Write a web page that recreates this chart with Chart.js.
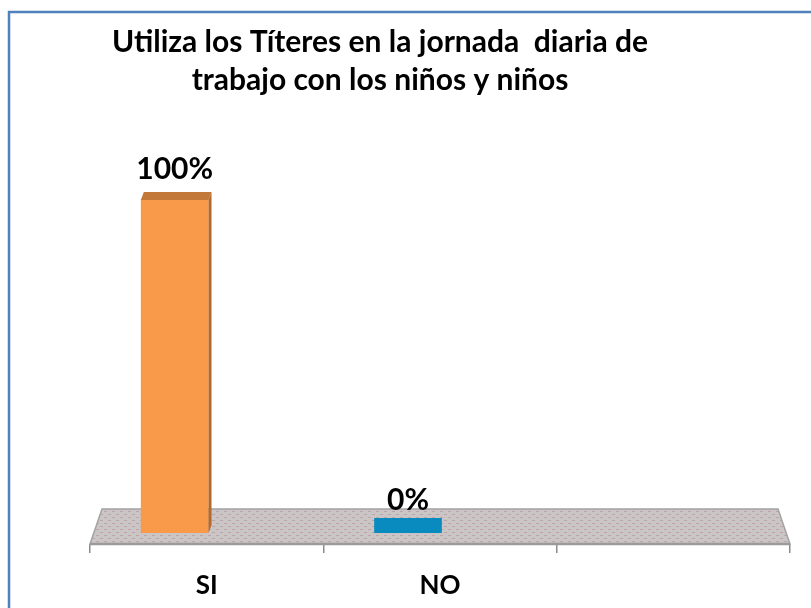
<!DOCTYPE html>
<html>
<head>
<meta charset="utf-8">
<script src="https://cdn.jsdelivr.net/npm/chart.js@4.4.0/dist/chart.umd.min.js"></script>
<style>
  html, body { margin: 0; padding: 0; background: #fff; }
  #wrap { width: 811px; height: 608px; }
</style>
</head>
<body>
<div id="wrap"><canvas id="chart"></canvas></div>
<script>
const titleLines = ['Utiliza los Títeres en la jornada  diaria de', 'trabajo con los niños y niños'];
const categories = ['SI', 'NO', ''];
const percentages = [100, 0, null];
const barColors = ['#f9994a', '#0a8bbf', '#f9994a'];
const topColors = ['#c27839', '#066a93', '#c27839'];
const sideColors = ['#b4682b', '#055a7c', '#b4682b'];

// floor pattern, grey with small pink dashes
function floorPattern(ctx) {
	const c = document.createElement('canvas');
	c.width = 8; c.height = 6;
	const p = c.getContext('2d');
	p.fillStyle = '#cbc6c6';
	p.fillRect(0, 0, 8, 6);
	p.fillStyle = '#bfa3aa';
	p.fillRect(0, 1, 3, 1);
	p.fillRect(4, 4, 3, 1);
	return ctx.createPattern(c, 'repeat');
}

const SHIFT = -32;
const DX = 3, DY = -8;

const decor = {
	id: 'decor',
	// zero bars get minBarLength centred on the base; sit them on the floor instead
	afterDatasetsUpdate(chart) {
		const zero = chart.scales.y.getPixelForValue(0);
		chart.getDatasetMeta(0).data.forEach((bar, i) => {
			if (percentages[i] === 0) {
				const h = Math.abs(bar.base - bar.y);
				bar.base = zero;
				bar.y = zero - h;
			}
		});
	},
	beforeDraw(chart) {
		const ctx = chart.ctx;
		ctx.save();
		ctx.fillStyle = '#fff';
		ctx.fillRect(0, 0, chart.width, chart.height);
		ctx.strokeStyle = '#4f81bd';
		ctx.lineWidth = 2.5;
		ctx.strokeRect(9, 12, chart.width + 10, chart.height + 10);
		ctx.fillStyle = '#000';
		ctx.font = 'bold 30px Lato';
		ctx.textAlign = 'center';
		ctx.textBaseline = 'middle';
		titleLines.forEach((t, i) => ctx.fillText(t, 380, 42 + i * 38));
		ctx.restore();
	},
	beforeDatasetsDraw(chart) {
		const ctx = chart.ctx;
		const a = chart.chartArea;
		const bottom = a.bottom, top = a.bottom - 35;
		ctx.save();
		ctx.beginPath();
		ctx.moveTo(a.left, bottom);
		ctx.lineTo(a.left + 12, top);
		ctx.lineTo(a.right - 12, top);
		ctx.lineTo(a.right, bottom);
		ctx.closePath();
		ctx.fillStyle = floorPattern(ctx);
		ctx.fill();
		ctx.strokeStyle = '#a3a3a3';
		ctx.lineWidth = 1.5;
		ctx.stroke();
		ctx.beginPath();
		ctx.moveTo(a.left, bottom);
		ctx.lineTo(a.right, bottom);
		ctx.lineWidth = 2.5;
		ctx.strokeStyle = '#9a9a9a';
		ctx.stroke();
		ctx.restore();
		ctx.save();
		ctx.translate(SHIFT, 0);
	},
	afterDatasetsDraw(chart) {
		const ctx = chart.ctx;
		ctx.restore();
		const meta = chart.getDatasetMeta(0);
		ctx.save();
		meta.data.forEach((bar, i) => {
			const v = percentages[i];
			if (v === null) return;
			const x0 = bar.x - bar.width / 2 + SHIFT;
			const x1 = bar.x + bar.width / 2 + SHIFT;
			let visibleTop = bar.y;
			let gap = 8;
			if (v > 0) {
				ctx.fillStyle = topColors[i];
				ctx.beginPath();
				ctx.moveTo(x0, bar.y);
				ctx.lineTo(x0 + DX, bar.y + DY);
				ctx.lineTo(x1 + DX, bar.y + DY);
				ctx.lineTo(x1, bar.y);
				ctx.closePath();
				ctx.fill();
				ctx.fillStyle = sideColors[i];
				ctx.beginPath();
				ctx.moveTo(x1, bar.y);
				ctx.lineTo(x1 + DX, bar.y + DY);
				ctx.lineTo(x1 + DX, bar.base + DY);
				ctx.lineTo(x1, bar.base);
				ctx.closePath();
				ctx.fill();
				visibleTop = bar.y + DY;
				gap = 13;
			}
			ctx.fillStyle = '#000';
			ctx.font = 'bold 30px Lato';
			ctx.textAlign = 'center';
			ctx.textBaseline = 'alphabetic';
			ctx.fillText(v + '%', (x0 + x1) / 2, visibleTop - gap);
		});
		ctx.restore();
	}
};

new Chart(document.getElementById('chart'), {
	type: 'bar',
	data: {
		labels: categories,
		datasets: [{
			data: percentages,
			backgroundColor: barColors,
			borderWidth: 0,
			categoryPercentage: 1,
			barPercentage: 0.29,
			minBarLength: 15,
		}],
	},
	options: {
		responsive: true,
		maintainAspectRatio: false,
		animation: false,
		layout: { padding: { top: 200, left: 90, right: 21, bottom: 0 } },
		plugins: {
			legend: { display: false },
			title: { display: false },
			tooltip: { enabled: false },
		},
		scales: {
			x: {
				afterFit(scale) { scale.height = 64; },
				grid: {
					offset: true,
					drawOnChartArea: false,
					tickLength: 9,
					color: '#8c8c8c',
					lineWidth: 1.5,
				},
				border: { display: false },
				ticks: {
					color: '#000',
					padding: 20,
					font: { family: 'Lato', size: 26, weight: 'bold', lineHeight: 1 },
				},
			},
			y: {
				display: false,
				min: -3.3,
				max: 100,
			},
		},
	},
	plugins: [decor],
});
</script>
</body>
</html>
